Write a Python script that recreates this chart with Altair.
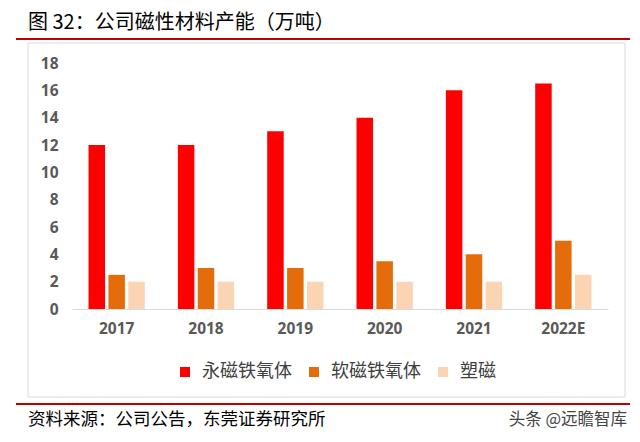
import altair as alt
import pandas as pd

years = ["2017", "2018", "2019", "2020", "2021", "2022E"]
series = ["永磁铁氧体", "软磁铁氧体", "塑磁"]
permanent = [12, 12, 13, 14, 16, 16.5]
soft = [2.5, 3, 3, 3.5, 4, 5]
plastic = [2, 2, 2, 2, 2, 2.5]
colors = ["#FF0000", "#E46C0A", "#FBD4B4"]
y_ticks = list(range(0, 19, 2))
title_text = "图 32：公司磁性材料产能（万吨）"
source_text = "资料来源：公司公告，东莞证券研究所"
watermark_text = "头条 @远瞻智库"

rows = []
for i, yr in enumerate(years):
    for s, vals in zip(series, [permanent, soft, plastic]):
        rows.append({"year": yr, "series": s, "value": vals[i]})
df = pd.DataFrame(rows)
one = pd.DataFrame({"a": [0]})

bars = alt.Chart(df).mark_bar().encode(
    x=alt.X("year:N", sort=years, title=None,
            scale=alt.Scale(paddingInner=0.37, paddingOuter=0.185),
            axis=alt.Axis(labelAngle=0, ticks=False, tickSize=0, domain=True,
                          domainColor="#D9D9D9", domainWidth=1, grid=False,
                          labelFont="Open Sans", labelFontSize=15.5, labelFontWeight="bold",
                          labelColor="#595959", labelPadding=12)),
    xOffset=alt.XOffset("series:N", sort=series,
                        scale=alt.Scale(paddingInner=0.17, paddingOuter=0)),
    y=alt.Y("value:Q", title=None,
            scale=alt.Scale(domain=[0, 18], nice=False),
            axis=alt.Axis(values=y_ticks, grid=False, domain=False, ticks=False, tickSize=0,
                          labelFont="Open Sans", labelFontSize=15.5, labelFontWeight="bold",
                          labelColor="#595959", labelPadding=14)),
    color=alt.Color("series:N", sort=series,
                    scale=alt.Scale(domain=series, range=colors),
                    legend=alt.Legend(orient="none", legendX=104, legendY=300,
                                      direction="horizontal", title=None,
                                      symbolType="square", symbolSize=100,
                                      symbolStrokeWidth=0, symbolOpacity=1,
                                      labelFont="Noto Sans CJK SC", labelFontSize=18,
                                      labelColor="#404040", labelOffset=8,
                                      columnPadding=13, padding=0)),
)

box = alt.Chart(one).mark_rect(fillOpacity=0, stroke="#D9D9D9", strokeWidth=1).encode(
    x=alt.value(-44), x2=alt.value(553), y=alt.value(-20), y2=alt.value(334))

rule_top = alt.Chart(one).mark_rule(color="#C00000", strokeWidth=2).encode(
    x=alt.value(-56), x2=alt.value(558), y=alt.value(-24))
rule_bot = alt.Chart(one).mark_rule(color="#C00000", strokeWidth=2).encode(
    x=alt.value(-56), x2=alt.value(558), y=alt.value(341))

title = alt.Chart(pd.DataFrame({"t": [title_text]})).mark_text(
    align="left", baseline="middle", font="Noto Sans CJK SC", fontSize=20, color="#000000"
).encode(text="t:N", x=alt.value(-44), y=alt.value(-40))

source = alt.Chart(pd.DataFrame({"t": [source_text]})).mark_text(
    align="left", baseline="middle", font="Noto Sans CJK SC", fontSize=17.5, color="#000000"
).encode(text="t:N", x=alt.value(-44), y=alt.value(357))

watermark = alt.Chart(pd.DataFrame({"t": [watermark_text]})).mark_text(
    align="right", baseline="middle", font="Noto Sans CJK SC", fontSize=16.5, color="#444444"
).encode(text="t:N", x=alt.value(555), y=alt.value(357))

chart = alt.layer(box, rule_top, rule_bot, title, source, watermark, bars).properties(
    width=536, height=246,
    autosize=alt.AutoSizeParams(type="none"),
    padding={"left": 64, "top": 55, "right": 24, "bottom": 125},
).configure_view(stroke=None)

chart.save("out.html", embed_options={"renderer": "svg", "actions": False})
